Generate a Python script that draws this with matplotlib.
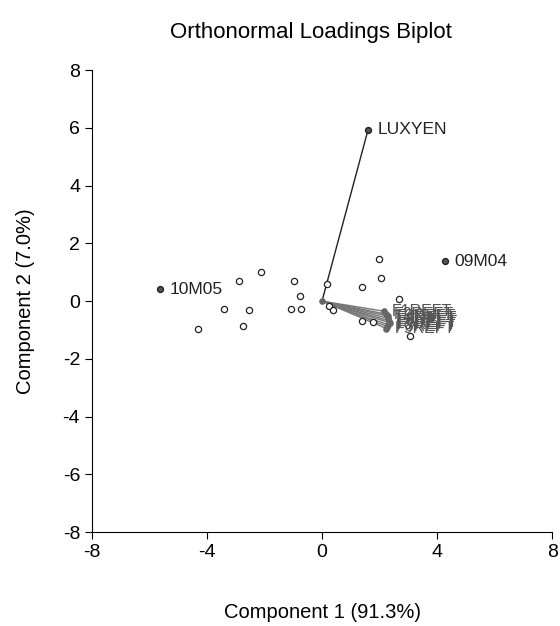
import numpy as np
import matplotlib.pyplot as plt

plt.rcParams["font.family"] = ["Liberation Sans", "DejaVu Sans"]
plt.rcParams["axes.unicode_minus"] = False

# observation scores (unlabelled)
obs_x = [-2.13, -2.88, -0.96, -0.77, -3.40, -2.52, -1.08, -0.74, -4.30, -2.74,
         0.18, 0.26, 0.39, 1.98, 2.05, 1.38, 2.68, 1.39, 1.76, 3.06]
obs_y = [1.02, 0.70, 0.71, 0.16, -0.29, -0.31, -0.27, -0.27, -0.97, -0.85,
         0.59, -0.16, -0.30, 1.47, 0.79, 0.49, 0.08, -0.69, -0.71, -1.20]

# labelled observations
lab_obs = ["10M05", "09M04"]
lab_obs_x = [-5.63, 4.26]
lab_obs_y = [0.41, 1.38]

# loadings
lux_name = "LUXYEN"
lux_x, lux_y = 1.60, 5.93

fan_names = ["F1REFT", "F2REFT", "F3REFT", "F4REFT", "F5REFT",
             "F6REFT", "F7REFT", "F8REFT", "F9REFT"]
fan_x = [2.15, 2.22, 2.28, 2.30, 2.32, 2.35, 2.30, 2.26, 2.24]
fan_y = [-0.35, -0.45, -0.52, -0.60, -0.68, -0.75, -0.82, -0.88, -0.95]

fig = plt.figure(figsize=(5.6, 6.26), dpi=100)
ax = fig.add_axes([0.164, 0.150, 0.822, 0.738])

# fan of loading vectors
for x, y, name in zip(fan_x, fan_y, fan_names):
    ax.plot([0, x], [0, y], color="#777777", lw=1.0, zorder=2)
    ax.scatter([x], [y], s=14, color="#666666", zorder=3)
    ax.annotate(name, (x, y), xytext=(6, 0), textcoords="offset points",
                ha="left", va="center", fontsize=11.5, color="#555555")

ax.plot([0, lux_x], [0, lux_y], color="#222222", lw=1.0, zorder=2)
ax.scatter([lux_x], [lux_y], s=18, color="#555555", edgecolors="#222222", zorder=4)
ax.annotate(lux_name, (lux_x, lux_y), xytext=(7, 0), textcoords="offset points",
            ha="left", va="center", fontsize=12.5, color="#222222")
ax.scatter([0], [0], s=14, color="#666666", zorder=4)

ax.scatter(obs_x, obs_y, s=20, facecolors="white", edgecolors="#222222",
           linewidths=0.9, zorder=5)
ax.scatter(lab_obs_x, lab_obs_y, s=18, color="#555555", edgecolors="#222222", zorder=5)
for x, y, name in zip(lab_obs_x, lab_obs_y, lab_obs):
    ax.annotate(name, (x, y), xytext=(7, 0), textcoords="offset points",
                ha="left", va="center", fontsize=12.5, color="#222222")

ax.set_xlim(-8, 8)
ax.set_ylim(-8, 8)
ax.set_xticks([-8, -4, 0, 4, 8])
ax.set_yticks(np.arange(-8, 9, 2))
ax.spines["top"].set_visible(False)
ax.spines["right"].set_visible(False)
ax.tick_params(direction="out", length=5, labelsize=14, width=0.8)
ax.set_xlabel("Component 1 (91.3%)", fontsize=14.5, labelpad=30)
ax.set_ylabel("Component 2 (7.0%)", fontsize=14.5, labelpad=20)
fig.text(0.555, 0.948, "Orthonormal Loadings Biplot", ha="center", va="center", fontsize=16)

fig.savefig("out.png", dpi=100)
